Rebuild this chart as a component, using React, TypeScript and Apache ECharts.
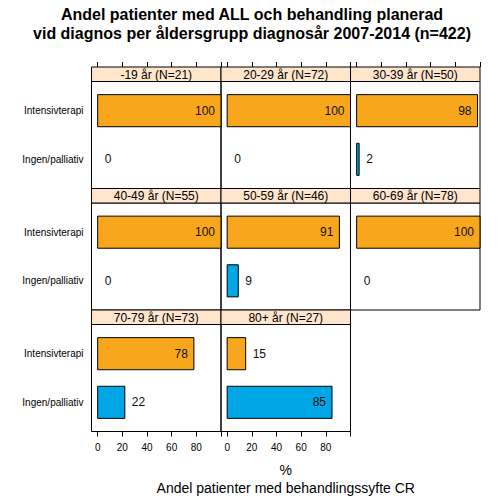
import React, { useEffect, useRef } from "react";
import * as echarts from "echarts";

// ---- data ----
const titleLines = [
  "Andel patienter med ALL och behandling planerad",
  "vid diagnos per åldersgrupp diagnosår 2007-2014 (n=422)",
];
const panelTitles = [
  "-19 år (N=21)",
  "20-29 år (N=72)",
  "30-39 år (N=50)",
  "40-49 år (N=55)",
  "50-59 år (N=46)",
  "60-69 år (N=78)",
  "70-79 år (N=73)",
  "80+ år (N=27)",
];
const categories = ["Intensivterapi", "Ingen/palliativ"];
const intensivterapi = [100, 100, 98, 100, 91, 100, 78, 15];
const ingenPalliativ = [0, 0, 2, 0, 9, 0, 22, 85];
const xTicks = [0, 20, 40, 60, 80, 100];
const xTickLabels = [0, 20, 40, 60, 80];
const xAxisUnit = "%";
const xAxisTitle = "Andel patienter med behandlingssyfte CR";

// ---- styling / layout ----
const COLORS = ["#F8A61C", "#00A6E6"];
const STRIP_BG = "#FFE5CC";
const FONT = "'Liberation Sans', Arial, Helvetica, sans-serif";
const COL_X = [91.5, 221, 350.5];
const PANEL_W = 129.5;
const ROW_Y = [67, 188.5, 310];
const STRIP_H = 14.5;
const PLOT_H = 107;
const NCOL = 3;

export default function App() {
  const ref = useRef<HTMLDivElement>(null);

  useEffect(() => {
    if (!ref.current) return;
    const chart = echarts.init(ref.current, undefined, { renderer: "svg" });

    const series: any[] = [
      intensivterapi,
      ingenPalliativ,
    ];
    const nPanels = panelTitles.length;
    const lastRow = Math.floor((nPanels - 1) / NCOL);

    const grids: any[] = [];
    const xAxes: any[] = [];
    const yAxes: any[] = [];
    const seriesList: any[] = [];
    const graphics: any[] = [];

    for (let i = 0; i < nPanels; i++) {
      const col = i % NCOL;
      const row = Math.floor(i / NCOL);
      const left = COL_X[col];
      const top = ROW_Y[row] + STRIP_H;
      // has a panel directly below?
      const hasBelow = i + NCOL < nPanels;
      const showBottom = !hasBelow && row === lastRow;

      grids.push({
        left,
        top,
        width: PANEL_W,
        height: PLOT_H,
        show: true,
        borderColor: "#000",
        borderWidth: 1,
        backgroundColor: "transparent",
        containLabel: false,
      });

      xAxes.push({
        gridIndex: i,
        type: "value",
        position: "bottom",
        min: -5,
        max: 100,
        axisLine: { show: false },
        splitLine: { show: false },
        axisTick: {
          show: showBottom,
          customValues: xTicks,
          inside: false,
          length: 5,
          lineStyle: { color: "#000", width: 1 },
        },
        axisLabel: {
          show: showBottom,
          customValues: xTickLabels,
          fontSize: 10,
          fontFamily: FONT,
          color: "#000",
          margin: 11,
        },
      });
      if (row === 0) {
        xAxes.push({
          gridIndex: i,
          type: "value",
          position: "top",
          offset: STRIP_H,
          min: -5,
          max: 100,
          axisLine: { show: false },
          splitLine: { show: false },
          axisTick: {
            show: true,
            customValues: xTicks,
            inside: false,
            length: 5,
            lineStyle: { color: "#000", width: 1 },
          },
          axisLabel: { show: false },
        });
      }
      const xIndex = xAxes.length - (row === 0 ? 2 : 1);

      yAxes.push({
        gridIndex: i,
        type: "value",
        min: 0.4,
        max: categories.length + 0.6,
        axisLine: { show: false },
        axisTick: { show: false },
        splitLine: { show: false },
        axisLabel: {
          show: col === 0,
          customValues: categories.map((_, k) => categories.length - k),
          formatter: (v: number) => categories[categories.length - Math.round(v)],
          fontSize: 10,
          fontFamily: FONT,
          color: "#000",
          margin: 8,
        },
      });

      const data = categories.map((_, k) => [series[k][i], categories.length - k, k]);

      seriesList.push({
        type: "custom",
        xAxisIndex: xIndex,
        yAxisIndex: i,
        clip: false,
        data,
        renderItem: (params: any, api: any) => {
          const v = api.value(0);
          const y = api.value(1);
          const k = api.value(2);
          const p0 = api.coord([0, y]);
          const p1 = api.coord([v, y]);
          const half = api.size([0, 0.33])[1];
          const inside = v > 50;
          const children: any[] = [];
          if (v > 0) {
            children.push({
              type: "rect",
              shape: { x: p0[0], y: p0[1] - half, width: p1[0] - p0[0], height: 2 * half },
              style: { fill: COLORS[k], stroke: "#000", lineWidth: 1 },
            });
          }
          children.push({
            type: "text",
            style: {
              text: String(v),
              x: inside ? p1[0] - 6 : p1[0] + 7,
              y: p0[1],
              align: inside ? "right" : "left",
              textAlign: inside ? "right" : "left",
              verticalAlign: "middle",
              textVerticalAlign: "middle",
              fontSize: 12,
              fontFamily: FONT,
              fill: "#111",
            },
          });
          return { type: "group", children };
        },
      });

      // strip
      graphics.push({
        type: "rect",
        shape: { x: left, y: ROW_Y[row], width: PANEL_W, height: STRIP_H },
        style: { fill: STRIP_BG, stroke: "#000", lineWidth: 1 },
        z: 10,
      });
      graphics.push({
        type: "text",
        x: left + PANEL_W / 2,
        y: ROW_Y[row] + STRIP_H / 2 + 0.5,
        style: {
          text: panelTitles[i],
          align: "center",
          verticalAlign: "middle",
          fontSize: 12,
          fontFamily: FONT,
          fill: "#000",
        },
        z: 11,
      });
    }

    // titles
    titleLines.forEach((t, j) => {
      graphics.push({
        type: "text",
        x: 252,
        y: 14 + j * 19,
        style: {
          text: t,
          align: "center",
          verticalAlign: "middle",
          fontSize: 16,
          fontWeight: "bold",
          fontFamily: FONT,
          fill: "#000",
        },
      });
    });
    const plotCenter = (COL_X[0] + COL_X[NCOL - 1] + PANEL_W) / 2;
    graphics.push({
      type: "text",
      x: plotCenter,
      y: 470,
      style: {
        text: xAxisUnit,
        align: "center",
        verticalAlign: "middle",
        fontSize: 14,
        fontFamily: FONT,
        fill: "#000",
      },
    });
    graphics.push({
      type: "text",
      x: plotCenter,
      y: 488,
      style: {
        text: xAxisTitle,
        align: "center",
        verticalAlign: "middle",
        fontSize: 14,
        fontFamily: FONT,
        fill: "#000",
      },
    });

    chart.setOption({
      animation: false,
      backgroundColor: "#fff",
      grid: grids,
      xAxis: xAxes,
      yAxis: yAxes,
      series: seriesList,
      graphic: graphics,
    });

    return () => chart.dispose();
  }, []);

  return (
    <div
      ref={ref}
      style={{ position: "fixed", left: 0, top: 0, width: 504, height: 504, background: "#fff" }}
    />
  );
}
